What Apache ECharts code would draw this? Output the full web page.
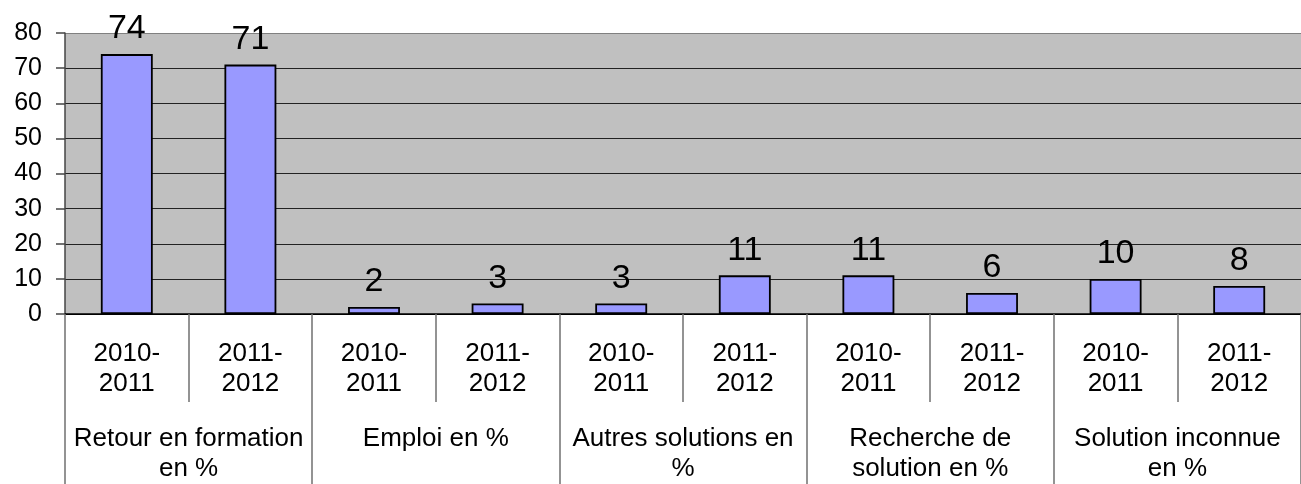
<!DOCTYPE html>
<html>
<head>
<meta charset="utf-8">
<script src="https://cdn.jsdelivr.net/npm/echarts@6/dist/echarts.min.js"></script>
<style>
  html, body { margin: 0; padding: 0; background: #fff; }
  #chart { width: 1301px; height: 484px; }
</style>
</head>
<body>
<div id="chart"></div>
<script>
  // years (inner category level) and groups (outer level)
  const years = ['2010-\n2011', '2011-\n2012', '2010-\n2011', '2011-\n2012', '2010-\n2011',
                 '2011-\n2012', '2010-\n2011', '2011-\n2012', '2010-\n2011', '2011-\n2012'];
  const groups = ['Retour en formation\nen %', 'Emploi en %', 'Autres solutions en\n%',
                  'Recherche de\nsolution en %', 'Solution inconnue\nen %'];
  const values = [74, 71, 2, 3, 3, 11, 11, 6, 10, 8];
  const yTicks = [0, 10, 20, 30, 40, 50, 60, 70, 80];

  const font = "'Liberation Sans', Arial, sans-serif";
  const chart = echarts.init(document.getElementById('chart'));

  const option = {
    animation: false,
    grid: {
      left: 65, top: 33, right: -4, bottom: 169,
      show: true, backgroundColor: '#C0C0C0', borderWidth: 0
    },
    xAxis: [
      {
        type: 'category',
        position: 'bottom',
        data: years,
        axisLine: { show: true, lineStyle: { color: '#000', width: 1.5 } },
        axisTick: { show: true, interval: 0, length: 88, lineStyle: { color: '#707070', width: 1.5 } },
        axisLabel: { interval: 0, margin: 25, fontSize: 26, lineHeight: 30, color: '#000', fontFamily: font },
        splitLine: { show: false }
      },
      {
        type: 'category',
        position: 'bottom',
        offset: 0,
        data: groups,
        axisLine: { show: false },
        axisTick: { show: true, interval: 0, length: 170, lineStyle: { color: '#707070', width: 1.5 } },
        axisLabel: { interval: 0, margin: 110, fontSize: 26, lineHeight: 30, color: '#000', fontFamily: font },
        splitLine: { show: false }
      }
    ],
    yAxis: {
      type: 'value',
      min: yTicks[0],
      max: yTicks[yTicks.length - 1],
      interval: 10,
      axisLine: { show: true, lineStyle: { color: '#444', width: 1.5 } },
      axisTick: { show: true, length: 9, lineStyle: { color: '#444', width: 1.5 } },
      axisLabel: { margin: 23, fontSize: 25, color: '#000', fontFamily: font },
      splitLine: {
        show: true,
        lineStyle: { color: ['#000', '#222', '#222', '#222', '#222', '#222', '#222', '#222', '#808080'], width: 1.2 }
      }
    },
    series: [
      {
        type: 'bar',
        xAxisIndex: 0,
        data: values,
        barWidth: '42%',
        itemStyle: { color: '#9999FF', borderColor: '#000', borderWidth: 1.8 },
        label: {
          show: true, position: 'top', distance: 8,
          fontSize: 34, color: '#000', fontFamily: font
        }
      }
    ]
  };
  chart.setOption(option);
</script>
</body>
</html>
